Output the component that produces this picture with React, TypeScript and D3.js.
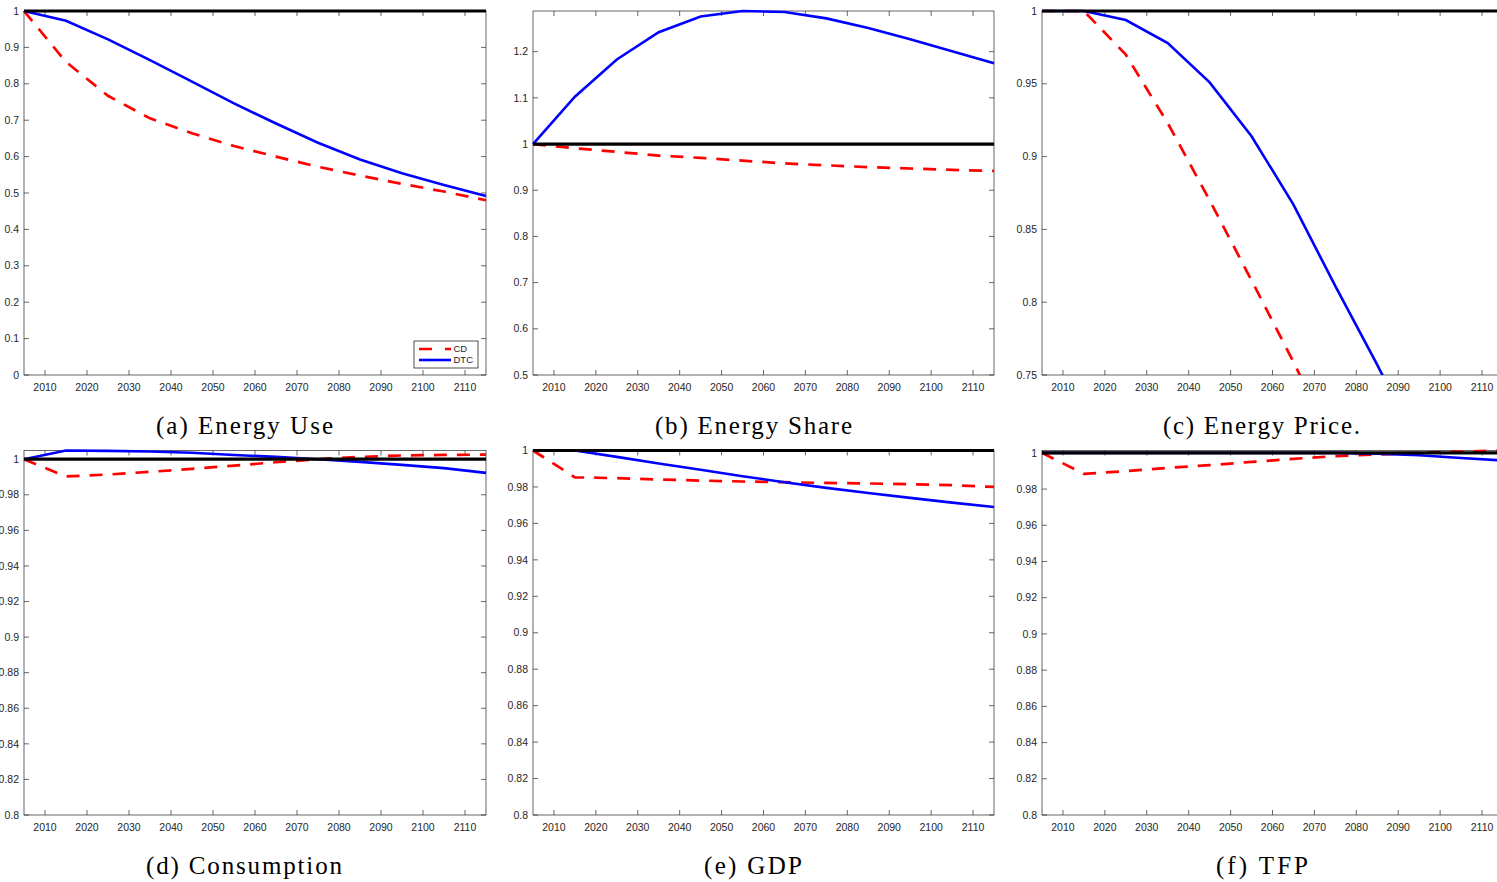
import React from "react";
import * as d3 from "d3";

// ---------- data ----------
const years = [2005, 2015, 2025, 2035, 2045, 2055, 2065, 2075, 2085, 2095, 2105, 2115];
const xTicks = [2010, 2020, 2030, 2040, 2050, 2060, 2070, 2080, 2090, 2100, 2110];
const baseline = [1, 1, 1, 1, 1, 1, 1, 1, 1, 1, 1, 1];

const energyUseCD = [1.0, 0.86, 0.767, 0.705, 0.664, 0.629, 0.6, 0.572, 0.548, 0.525, 0.504, 0.48];
const energyUseDTC = [1.0, 0.973, 0.922, 0.865, 0.806, 0.746, 0.691, 0.638, 0.592, 0.554, 0.522, 0.492];

const energyShareCD = [1.0, 0.991, 0.983, 0.975, 0.97, 0.964, 0.958, 0.954, 0.95, 0.947, 0.944, 0.942];
const energyShareDTC = [1.0, 1.1025, 1.183, 1.242, 1.276, 1.288, 1.286, 1.272, 1.251, 1.227, 1.201, 1.175];

const energyPriceCD = [1.0, 1.0, 0.97, 0.923, 0.87, 0.815, 0.759, 0.7, 0.64, 0.58, 0.52, 0.46];
const energyPriceDTC = [1.0, 1.0, 0.9938, 0.978, 0.951, 0.914, 0.867, 0.811, 0.757, 0.7, 0.64, 0.58];

const consumptionCD = [1.0, 0.9903, 0.9914, 0.9929, 0.9946, 0.9964, 0.9983, 1.0, 1.0013, 1.0021, 1.0024, 1.0026];
const consumptionDTC = [1.0, 1.0049, 1.0047, 1.0043, 1.0036, 1.0024, 1.0013, 1.0, 0.9985, 0.9968, 0.995, 0.9923];

const gdpCD = [1.0, 0.9853, 0.9848, 0.9841, 0.9835, 0.983, 0.9826, 0.9822, 0.9819, 0.9815, 0.981, 0.98];
const gdpDTC = [1.0, 1.0, 0.9965, 0.9929, 0.9894, 0.9859, 0.9826, 0.9795, 0.9767, 0.974, 0.9714, 0.969];

const tfpCD = [1.0, 0.9884, 0.9899, 0.9917, 0.9932, 0.995, 0.9967, 0.9982, 0.9991, 1.0, 1.0007, 1.0013];
const tfpDTC = [1.0, 1.0, 1.0, 1.0, 1.0, 1.0, 1.0, 1.0, 0.9996, 0.9987, 0.9972, 0.9958];

const yTicksUse = [0, 0.1, 0.2, 0.3, 0.4, 0.5, 0.6, 0.7, 0.8, 0.9, 1];
const yTicksShare = [0.5, 0.6, 0.7, 0.8, 0.9, 1, 1.1, 1.2];
const yTicksPrice = [0.75, 0.8, 0.85, 0.9, 0.95, 1];
const yTicksMacro = [0.8, 0.82, 0.84, 0.86, 0.88, 0.9, 0.92, 0.94, 0.96, 0.98, 1];

const legendLabels = ["CD", "DTC"];
const captions = [
  "(a) Energy Use",
  "(b) Energy Share",
  "(c) Energy Price.",
  "(d) Consumption",
  "(e) GDP",
  "(f) TFP",
];

// ---------- styles ----------
const AXIS = "#262626";
const RED = "#ff0000";
const BLUE = "#0000ff";
const TICK_FONT = "'Liberation Sans', Arial, Helvetica, sans-serif";
const CAP_FONT = "'Liberation Serif', 'Times New Roman', serif";

const fmt = (v: number) => String(+v.toFixed(2));

type PanelProps = {
  id: string;
  x0: number;
  x1: number;
  top: number;
  bottom: number;
  yDomain: [number, number];
  yTicks: number[];
  cd: number[];
  dtc: number[];
  legend?: boolean;
};

function Panel({ id, x0, x1, top, bottom, yDomain, yTicks, cd, dtc, legend }: PanelProps) {
  const x = d3.scaleLinear().domain([2005, 2115]).range([x0, x1]);
  const y = d3.scaleLinear().domain(yDomain).range([bottom, top]);
  const line = d3
    .line<number>()
    .x((_, i) => x(years[i]))
    .y((d) => y(d));
  const tl = 5;
  return (
    <g>
      <defs>
        <clipPath id={`clip-${id}`}>
          <rect x={x0 - 2} y={top - 3} width={x1 - x0 + 4} height={bottom - top + 3} />
        </clipPath>
      </defs>
      <rect x={x0} y={top} width={x1 - x0} height={bottom - top} fill="none" stroke={AXIS} strokeWidth={0.7} />
      {xTicks.map((t) => (
        <g key={`xt${t}`}>
          <line x1={x(t)} x2={x(t)} y1={bottom} y2={bottom - tl} stroke={AXIS} strokeWidth={0.7} />
          <line x1={x(t)} x2={x(t)} y1={top} y2={top + tl} stroke={AXIS} strokeWidth={0.7} />
          <text
            x={x(t)}
            y={bottom + 15.5}
            textAnchor="middle"
            fontFamily={TICK_FONT}
            fontSize={10.5}
            fill={AXIS}
          >
            {t}
          </text>
        </g>
      ))}
      {yTicks.map((t) => (
        <g key={`yt${t}`}>
          <line x1={x0} x2={x0 + tl} y1={y(t)} y2={y(t)} stroke={AXIS} strokeWidth={0.7} />
          <line x1={x1} x2={x1 - tl} y1={y(t)} y2={y(t)} stroke={AXIS} strokeWidth={0.7} />
          <text
            x={x0 - 5}
            y={y(t)}
            dy="0.35em"
            textAnchor="end"
            fontFamily={TICK_FONT}
            fontSize={10.5}
            fill={AXIS}
          >
            {fmt(t)}
          </text>
        </g>
      ))}
      <g clipPath={`url(#clip-${id})`}>
        <path d={line(cd) || ""} fill="none" stroke={RED} strokeWidth={2.7} strokeDasharray="13,10" />
        <path d={line(dtc) || ""} fill="none" stroke={BLUE} strokeWidth={2.6} />
        <path d={line(baseline) || ""} fill="none" stroke="#000" strokeWidth={3.2} />
      </g>
      {legend && (
        <g>
          <rect x={414} y={341} width={64} height={27} fill="#fff" stroke={AXIS} strokeWidth={0.8} />
          <line x1={419} x2={451} y1={349} y2={349} stroke={RED} strokeWidth={2.7} strokeDasharray="13,13" />
          <line x1={419} x2={451} y1={360} y2={360} stroke={BLUE} strokeWidth={2.6} />
          <text x={453.5} y={349} dy="0.35em" fontFamily={TICK_FONT} fontSize={9.5} fill={AXIS}>
            {legendLabels[0]}
          </text>
          <text x={453.5} y={360} dy="0.35em" fontFamily={TICK_FONT} fontSize={9.5} fill={AXIS}>
            {legendLabels[1]}
          </text>
        </g>
      )}
    </g>
  );
}

function Caption({ text, cx, y, len }: { text: string; cx: number; y: number; len: number }) {
  return (
    <text
      x={cx}
      y={y}
      textAnchor="middle"
      fontFamily={CAP_FONT}
      fontSize={25}
      fill="#000"
      textLength={len}
      lengthAdjust="spacing"
    >
      {text}
    </text>
  );
}

export default function App() {
  const maxOf = (...arrs: number[][]) => d3.max(arrs.flat()) as number;
  const topRow = 11;
  const botRow = 375;
  const top2 = 450.5;
  const bot2 = 815;
  return (
    <svg
      width={1497}
      height={882}
      viewBox="0 0 1497 882"
      style={{ position: "absolute", left: 0, top: 0, background: "#fff" }}
    >
      <rect x={0} y={0} width={1497} height={882} fill="#fff" />
      <Panel id="a" x0={24} x1={486} top={topRow} bottom={botRow} yDomain={[0, 1]} yTicks={yTicksUse} cd={energyUseCD} dtc={energyUseDTC} legend />
      <Panel id="b" x0={533} x1={994} top={topRow} bottom={botRow} yDomain={[0.5, maxOf(energyShareDTC)]} yTicks={yTicksShare} cd={energyShareCD} dtc={energyShareDTC} />
      <Panel id="c" x0={1042} x1={1503} top={topRow} bottom={botRow} yDomain={[0.75, 1]} yTicks={yTicksPrice} cd={energyPriceCD} dtc={energyPriceDTC} />
      <Panel id="d" x0={24} x1={486} top={top2} bottom={bot2} yDomain={[0.8, maxOf(consumptionCD, consumptionDTC)]} yTicks={yTicksMacro} cd={consumptionCD} dtc={consumptionDTC} />
      <Panel id="e" x0={533} x1={994} top={top2} bottom={bot2} yDomain={[0.8, maxOf(gdpCD, gdpDTC)]} yTicks={yTicksMacro} cd={gdpCD} dtc={gdpDTC} />
      <Panel id="f" x0={1042} x1={1503} top={top2} bottom={bot2} yDomain={[0.8, maxOf(tfpCD, tfpDTC)]} yTicks={yTicksMacro} cd={tfpCD} dtc={tfpDTC} />
      <Caption text={captions[0]} cx={244.5} y={434} len={177} />
      <Caption text={captions[1]} cx={753.5} y={434} len={197} />
      <Caption text={captions[2]} cx={1261.5} y={434} len={197} />
      <Caption text={captions[3]} cx={244} y={874} len={196} />
      <Caption text={captions[4]} cx={753} y={874} len={98} />
      <Caption text={captions[5]} cx={1262} y={874} len={92} />
    </svg>
  );
}
